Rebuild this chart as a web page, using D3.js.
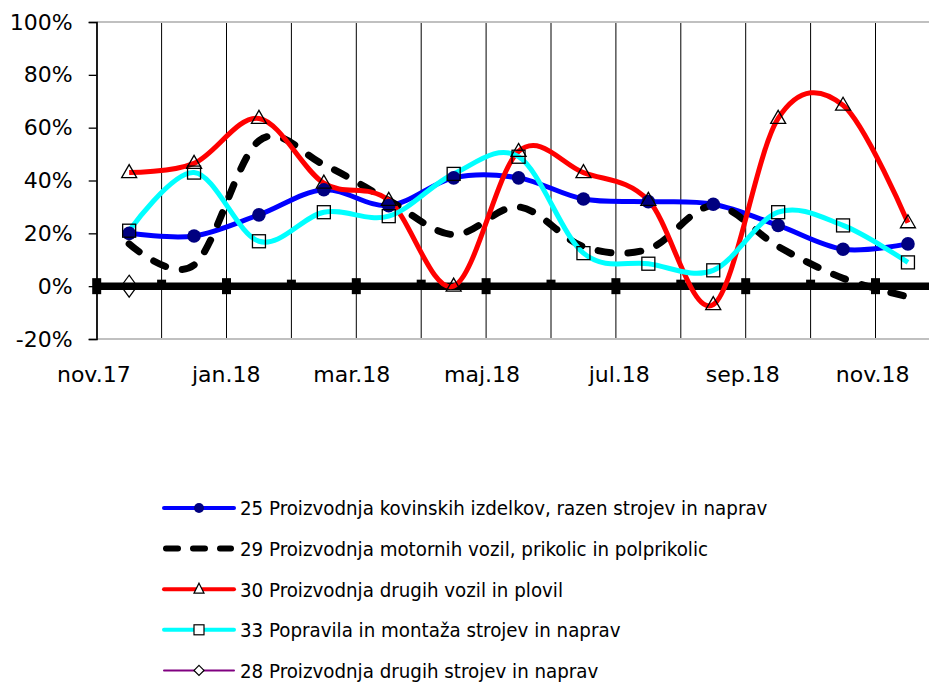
<!DOCTYPE html>
<html>
<head>
<meta charset="utf-8">
<script src="https://cdn.jsdelivr.net/npm/d3@7"></script>
<style>
  body { margin: 0; background: #fff; }
  svg { display: block; }
  .axis text { font-family: Verdana, "DejaVu Sans", sans-serif; font-size: 22px; fill: #000; }
  .legend text { font-family: Tahoma, "DejaVu Sans Condensed", "DejaVu Sans", sans-serif; font-size: 20.3px; fill: #000; }
</style>
</head>
<body>
<div id="chart"></div>
<script>
// Data
const categories = ["nov.17", "dec.17", "jan.18", "feb.18", "mar.18", "apr.18", "maj.18",
  "jun.18", "jul.18", "avg.18", "sep.18", "okt.18", "nov.18"];
const yTicks = [-20, 0, 20, 40, 60, 80, 100];
const s25 = [20, 19, 27, 36.5, 30.5, 41, 41, 33, 32, 31, 23, 14, 16];
const s29 = [16, 8, 55, 46, 32.5, 19.5, 30, 15, 14, 30.5, 15, 3, -4];
const s30 = [43, 46.5, 63.5, 39, 32.5, 0, 51, 43, 32.5, -7, 63.5, 68.5, 24];
const s33 = [21, 43, 17, 28, 26.5, 42.5, 49, 12.5, 8.5, 6, 28, 23, 9];
const s28 = [0, null, null, null, null, null, null, null, null, null, null, null, null];
const seriesNames = [
  "25 Proizvodnja kovinskih izdelkov, razen strojev in naprav",
  "29 Proizvodnja motornih vozil, prikolic in polprikolic",
  "30 Proizvodnja drugih vozil in plovil",
  "33 Popravila in montaža strojev in naprav",
  "28 Proizvodnja drugih strojev in naprav"
];

const W = 929, H = 684;
const plot = { left: 96.7, top: 22, bottom: 339, band: 64.9 };

const svg = d3.select("#chart").append("svg")
  .attr("width", W)
  .attr("height", H);

const xScale = d3.scaleBand()
  .domain(categories)
  .range([plot.left, plot.left + plot.band * categories.length])
  .paddingInner(0).paddingOuter(0);
const xPoint = d3.scalePoint()
  .domain(categories)
  .range([plot.left, plot.left + plot.band * categories.length])
  .padding(0.5);
const yScale = d3.scaleLinear().domain([-20, 100]).range([plot.bottom, plot.top]);

const cx = (d, i) => xPoint(categories[i]);

// vertical gridlines at category boundaries
svg.append("g")
  .selectAll("line")
  .data(categories)
  .enter().append("line")
  .attr("x1", d => xScale(d)).attr("x2", d => xScale(d))
  .attr("y1", plot.top).attr("y2", plot.bottom)
  .attr("stroke", "#000").attr("stroke-width", 1);

// top / bottom frame
[100, -20].forEach(v => {
  svg.append("line")
    .attr("x1", plot.left).attr("x2", W)
    .attr("y1", yScale(v)).attr("y2", yScale(v))
    .attr("stroke", "#c0c0c0").attr("stroke-width", 2);
});

// y axis
const yAxis = svg.append("g")
  .attr("class", "axis")
  .attr("transform", "translate(" + plot.left + ",0)")
  .call(d3.axisLeft(yScale).tickValues(yTicks).tickFormat(d => d + "%").tickSize(8).tickPadding(16));
yAxis.select(".domain").attr("stroke", "#000").attr("stroke-width", 1.3);
yAxis.selectAll(".tick line").attr("stroke", "#000").attr("stroke-width", 1.3);

// x axis labels (every other month, right aligned on the point)
const xAxis = svg.append("g")
  .attr("class", "axis")
  .attr("transform", "translate(0," + plot.bottom + ")")
  .call(d3.axisBottom(xPoint).tickValues(categories.filter((d, i) => i % 2 === 0)).tickSize(0).tickPadding(27));
xAxis.select(".domain").remove();
xAxis.selectAll("text").attr("text-anchor", "end").attr("dx", "1");

const line = d3.line()
  .defined(d => d != null)
  .x(cx)
  .y(d => yScale(d))
  .curve(d3.curveCardinal.tension(0));

// series 28 (only first month) sits under the zero line
svg.append("g")
  .selectAll("path")
  .data(s28.map((v, i) => [v, i]).filter(d => d[0] != null))
  .enter().append("path")
  .attr("d", "M0,-11L8,0L0,11L-8,0Z")
  .attr("transform", d => "translate(" + xPoint(categories[d[1]]) + "," + yScale(d[0]) + ")")
  .attr("fill", "none").attr("stroke", "#000").attr("stroke-width", 1.2);

// thick zero line with tick marks
const y0 = yScale(0);
svg.append("line")
  .attr("x1", plot.left).attr("x2", W)
  .attr("y1", y0).attr("y2", y0)
  .attr("stroke", "#000").attr("stroke-width", 7.5);
svg.append("g")
  .selectAll("rect")
  .data(categories)
  .enter().append("rect")
  .attr("x", d => xScale(d) - 4.5)
  .attr("y", (d, i) => i % 2 === 0 ? y0 - 8 : y0 - 6.5)
  .attr("width", 9)
  .attr("height", (d, i) => i % 2 === 0 ? 16 : 7)
  .attr("fill", "#000");

// lines
svg.append("path").datum(s25).attr("d", line)
  .attr("fill", "none").attr("stroke", "#0000ff").attr("stroke-width", 5);
svg.append("path").datum(s29).attr("d", line)
  .attr("fill", "none").attr("stroke", "#000").attr("stroke-width", 7)
  .attr("stroke-dasharray", "13,17").attr("stroke-linecap", "round");
svg.append("path").datum(s30).attr("d", line)
  .attr("fill", "none").attr("stroke", "#ff0000").attr("stroke-width", 5);
svg.append("path").datum(s33).attr("d", line)
  .attr("fill", "none").attr("stroke", "#00ffff").attr("stroke-width", 5);

// markers on top of all lines
svg.append("g").selectAll("circle")
  .data(s25).enter().append("circle")
  .attr("cx", cx).attr("cy", d => yScale(d)).attr("r", 6.8)
  .attr("fill", "#000080");

const tri = "M0,-8L7.5,5L-7.5,5Z";
svg.append("g").selectAll("path")
  .data(s30).enter().append("path")
  .attr("d", tri)
  .attr("transform", (d, i) => "translate(" + cx(d, i) + "," + yScale(d) + ")")
  .attr("fill", "none").attr("stroke", "#000").attr("stroke-width", 1.3);

svg.append("g").selectAll("rect")
  .data(s33).enter().append("rect")
  .attr("x", (d, i) => cx(d, i) - 6.5).attr("y", d => yScale(d) - 6.5)
  .attr("width", 13).attr("height", 13)
  .attr("fill", "none").attr("stroke", "#000").attr("stroke-width", 1.3);

// legend
const legendStyles = [
  { color: "#0000ff", width: 4, dash: null, marker: "circle" },
  { color: "#000", width: 6, dash: "12,15", marker: null },
  { color: "#ff0000", width: 4, dash: null, marker: "triangle" },
  { color: "#00ffff", width: 4, dash: null, marker: "square" },
  { color: "#800080", width: 2, dash: null, marker: "diamond" }
];
const legend = svg.append("g").attr("class", "legend");
const rows = legend.selectAll("g")
  .data(seriesNames)
  .enter().append("g")
  .attr("transform", (d, i) => "translate(0," + (508 + i * 40.6) + ")");

rows.append("line")
  .attr("x1", (d, i) => legendStyles[i].dash ? 166 : 164)
  .attr("x2", (d, i) => legendStyles[i].dash ? 231 : 234)
  .attr("stroke", (d, i) => legendStyles[i].color)
  .attr("stroke-width", (d, i) => legendStyles[i].width)
  .attr("stroke-linecap", "round")
  .attr("stroke-dasharray", (d, i) => legendStyles[i].dash);

rows.each(function (d, i) {
  const g = d3.select(this), m = legendStyles[i].marker;
  if (m === "circle") g.append("circle").attr("cx", 199).attr("r", 5).attr("fill", "#000080");
  if (m === "triangle") g.append("path").attr("d", "M199,-6L204,4L194,4Z")
    .attr("fill", "#fff").attr("stroke", "#000").attr("stroke-width", 1.2);
  if (m === "square") g.append("rect").attr("x", 194).attr("y", -5).attr("width", 10).attr("height", 10)
    .attr("fill", "#fff").attr("stroke", "#000").attr("stroke-width", 1.2);
  if (m === "diamond") g.append("path").attr("d", "M199,-5L204,0L199,5L194,0Z")
    .attr("fill", "#fff").attr("stroke", "#000").attr("stroke-width", 1.2);
});

rows.append("text")
  .attr("x", 240)
  .attr("dy", "0.36em")
  .text(d => d);
</script>
</body>
</html>
